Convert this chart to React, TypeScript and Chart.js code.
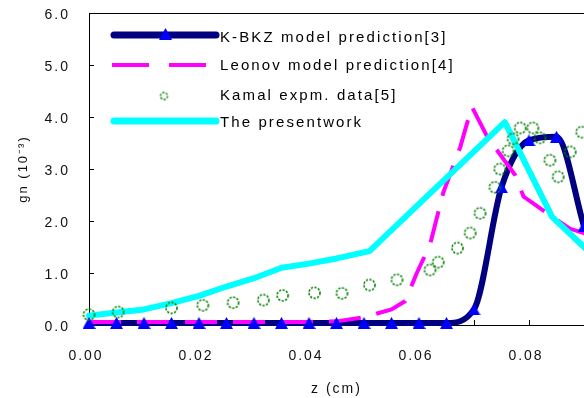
import React, { useEffect, useRef } from 'react';
import { Chart, registerables } from 'chart.js';

Chart.register(...registerables);

// ---- data ----
const seriesLabels = [
  'K-BKZ model prediction[3]',
  'Leonov model prediction[4]',
  'Kamal expm. data[5]',
  'The presentwork',
];

const kbkzZ = [0, 0.005, 0.01, 0.015, 0.02, 0.025, 0.03, 0.035, 0.04, 0.045, 0.05, 0.055, 0.06, 0.065, 0.07, 0.075, 0.08, 0.085, 0.09];
const kbkzV = [0.04, 0.04, 0.04, 0.04, 0.04, 0.04, 0.04, 0.04, 0.04, 0.04, 0.04, 0.04, 0.04, 0.04, 0.3, 2.65, 3.55, 3.62, 1.9];

const leonovZ = [0, 0.01, 0.02, 0.03, 0.04, 0.045, 0.05, 0.055, 0.0575, 0.0596, 0.062, 0.0644, 0.0675, 0.0696, 0.0724, 0.0775, 0.079, 0.0833, 0.0875, 0.092];
const leonovV = [0.06, 0.06, 0.06, 0.06, 0.06, 0.07, 0.15, 0.3, 0.46, 1.0, 1.54, 2.54, 3.42, 4.2, 3.62, 2.88, 2.47, 2.15, 1.85, 1.7];

const kamalZ = [0, 0.0053, 0.015, 0.0207, 0.0262, 0.0317, 0.0352, 0.041, 0.046, 0.051, 0.056, 0.062, 0.0635, 0.067, 0.0693, 0.0711, 0.0738, 0.0747, 0.0762, 0.0771, 0.0784, 0.0807, 0.082, 0.0838, 0.0853, 0.0875, 0.0896];
const kamalV = [0.2, 0.25, 0.33, 0.38, 0.43, 0.48, 0.57, 0.62, 0.61, 0.77, 0.87, 1.06, 1.21, 1.48, 1.77, 2.15, 2.65, 3.0, 3.35, 3.58, 3.79, 3.79, 3.6, 3.17, 2.85, 3.33, 3.71];

const presentZ = [0, 0.005, 0.01, 0.015, 0.02, 0.025, 0.03, 0.035, 0.04, 0.045, 0.051, 0.0756, 0.0842, 0.092];
const presentV = [0.18, 0.24, 0.3, 0.42, 0.56, 0.74, 0.9, 1.1, 1.18, 1.28, 1.42, 3.9, 2.08, 1.3];

const xMin = 0;
const xMax = 0.09;
const xLabelStep = 0.02;
const xMinorStep = 0.01;
const yMin = 0;
const yMax = 6;
const yStep = 1;

const xTitle = 'z (cm)';
const yTitle = 'gn (10\u207B\u00B3)';

// ---- helpers ----
const pts = (xs: number[], ys: number[]) => xs.map((x, i) => ({ x, y: ys[i] }));

const NAVY = '#000080';
const BLUE = '#0000FF';
const MAGENTA = '#FF00FF';
const GREEN = '#008000';
const CYAN = '#00FFFF';
const FONT = '"Liberation Sans", Arial, sans-serif';

function makeCircle(r: number, lw: number) {
  const size = Math.ceil(2 * r + lw + 2);
  const c = document.createElement('canvas');
  c.width = size;
  c.height = size;
  const g = c.getContext('2d')!;
  g.strokeStyle = GREEN;
  g.lineWidth = lw;
  g.setLineDash([2.2, 1.4]);
  g.beginPath();
  g.arc(size / 2, size / 2, r, 0, Math.PI * 2);
  g.stroke();
  return c;
}

function makeTriangle(w: number, h: number) {
  const c = document.createElement('canvas');
  c.width = w;
  c.height = h;
  const g = c.getContext('2d')!;
  g.fillStyle = BLUE;
  g.beginPath();
  g.moveTo(w / 2, 0);
  g.lineTo(w, h);
  g.lineTo(0, h);
  g.closePath();
  g.fill();
  return c;
}

export default function App() {
  const ref = useRef<HTMLCanvasElement | null>(null);

  useEffect(() => {
    const canvas = ref.current;
    if (!canvas) return;
    const circle = makeCircle(5.5, 1.6);
    const smallCircle = makeCircle(3.5, 1.4);
    const triangle = makeTriangle(13, 12);

    const setSpacing = (chart: any) => {
      try {
        chart.ctx.letterSpacing = '2px';
      } catch (e) {}
    };

    const framePlugin = {
      id: 'frameAndLegend',
      beforeUpdate: (chart: any) => setSpacing(chart),
      beforeDraw: (chart: any) => setSpacing(chart),
      beforeDatasetsDraw: (chart: any) => {
        const { ctx, chartArea: a, scales } = chart;
        ctx.save();
        ctx.strokeStyle = '#000';
        ctx.lineWidth = 1;
        ctx.beginPath();
        ctx.moveTo(a.left + 0.5, a.top + 0.5);
        ctx.lineTo(a.right + 2, a.top + 0.5);
        ctx.moveTo(a.left + 0.5, a.top);
        ctx.lineTo(a.left + 0.5, a.bottom + 0.5);
        ctx.moveTo(a.left, a.bottom + 0.5);
        ctx.lineTo(a.right + 2, a.bottom + 0.5);
        // inside tick marks
        for (let v = yMin; v <= yMax + 1e-9; v += yStep) {
          const y = Math.round(scales.y.getPixelForValue(v)) + 0.5;
          ctx.moveTo(a.left, y);
          ctx.lineTo(a.left + 5, y);
        }
        for (let k = 1; k * xMinorStep <= xMax + 1e-9; k++) {
          const x = Math.round(scales.x.getPixelForValue(k * xMinorStep)) + 0.5;
          ctx.moveTo(x, a.bottom);
          ctx.lineTo(x, a.bottom - 5);
        }
        ctx.stroke();
        ctx.restore();
      },
      afterDraw: (chart: any) => {
        const { ctx } = chart;
        ctx.save();
        const x0 = 114;
        const x1 = 216;
        const rows = [35, 65, 96, 121];
        // K-BKZ
        ctx.lineCap = 'round';
        ctx.strokeStyle = NAVY;
        ctx.lineWidth = 7;
        ctx.beginPath();
        ctx.moveTo(x0, rows[0]);
        ctx.lineTo(x1, rows[0]);
        ctx.stroke();
        ctx.drawImage(triangle, 165 - 6, rows[0] - 7);
        // Leonov
        ctx.lineCap = 'butt';
        ctx.strokeStyle = MAGENTA;
        ctx.lineWidth = 4;
        ctx.setLineDash([37, 20]);
        ctx.beginPath();
        ctx.moveTo(112, rows[1]);
        ctx.lineTo(206, rows[1]);
        ctx.stroke();
        ctx.setLineDash([]);
        // Kamal
        ctx.drawImage(smallCircle, 164 - smallCircle.width / 2, rows[2] - smallCircle.height / 2);
        // present
        ctx.lineCap = 'round';
        ctx.strokeStyle = CYAN;
        ctx.lineWidth = 7;
        ctx.beginPath();
        ctx.moveTo(x0, rows[3]);
        ctx.lineTo(x1, rows[3]);
        ctx.stroke();
        // texts
        ctx.fillStyle = '#000';
        ctx.font = `15px ${FONT}`;
        try {
          ctx.letterSpacing = '2.1px';
        } catch (e) {}
        ctx.textBaseline = 'middle';
        ctx.textAlign = 'left';
        const ty = [38, 66, 96, 123];
        seriesLabels.forEach((t, i) => ctx.fillText(t, 220, ty[i]));
        ctx.restore();
      },
    };

    const chart = new Chart(canvas, {
      type: 'line',
      data: {
        datasets: [
          {
            label: seriesLabels[2],
            data: pts(kamalZ, kamalV),
            showLine: false,
            pointStyle: circle as any,
            pointRadius: 5.5,
            borderColor: GREEN,
            backgroundColor: 'transparent',
            order: 1,
            clip: 10,
          },
          {
            label: seriesLabels[0] + ' markers',
            data: pts(kbkzZ, kbkzV),
            showLine: false,
            pointStyle: triangle as any,
            pointRadius: 6,
            pointBackgroundColor: BLUE,
            pointBorderColor: BLUE,
            order: 2,
            clip: 10,
          },
          {
            label: seriesLabels[3],
            data: pts(presentZ, presentV),
            borderColor: CYAN,
            borderWidth: 6,
            pointRadius: 0,
            tension: 0,
            borderJoinStyle: 'round',
            borderCapStyle: 'round',
            order: 3,
            clip: 8,
          },
          {
            label: seriesLabels[1],
            data: pts(leonovZ, leonovV),
            borderColor: MAGENTA,
            borderWidth: 4,
            borderDash: [32, 16],
            pointRadius: 0,
            tension: 0,
            order: 4,
            clip: 8,
          },
          {
            label: seriesLabels[0],
            data: pts(kbkzZ, kbkzV),
            borderColor: NAVY,
            borderWidth: 6,
            pointRadius: 0,
            cubicInterpolationMode: 'monotone',
            borderJoinStyle: 'round',
            order: 5,
            clip: 8,
          },
        ] as any,
      },
      options: {
        responsive: false,
        animation: false,
        devicePixelRatio: 1,
        layout: { autoPadding: false, padding: { top: 13, right: 0, bottom: 0, left: 0 } },
        plugins: {
          legend: { display: false },
          tooltip: { enabled: false },
        },
        scales: {
          x: {
            type: 'linear',
            min: xMin,
            max: xMax,
            grid: { display: false, drawTicks: false },
            border: { display: false },
            ticks: {
              stepSize: xLabelStep,
              includeBounds: false,
              padding: 23,
              labelOffset: -3,
              color: '#111',
              font: { family: FONT, size: 14 },
              maxRotation: 0,
              callback: (v: any) => Number(v).toFixed(2),
            },
            title: {
              display: true,
              text: xTitle,
              color: '#111',
              font: { family: FONT, size: 14 },
              padding: { top: 0, bottom: 0 },
            },
            afterFit: (s: any) => {
              s.height = 73;
              s.paddingLeft = 0;
              s.paddingRight = 0;
            },
          },
          y: {
            type: 'linear',
            min: yMin,
            max: yMax,
            grid: { display: false, drawTicks: false },
            border: { display: false },
            ticks: {
              stepSize: yStep,
              padding: 19,
              labelOffset: 2,
              color: '#111',
              font: { family: FONT, size: 14 },
              callback: (v: any) => Number(v).toFixed(1),
            },
            title: {
              display: true,
              text: yTitle,
              color: '#111',
              font: { family: FONT, size: 13 },
              padding: { top: 16, bottom: 0 },
            },
            afterFit: (s: any) => {
              s.width = 89;
              s.paddingTop = 0;
              s.paddingBottom = 0;
            },
          },
        },
      } as any,
      plugins: [framePlugin],
    });

    return () => chart.destroy();
  }, []);

  return (
    <div
      style={{
        position: 'fixed',
        left: 0,
        top: 0,
        width: 584,
        height: 398,
        overflow: 'hidden',
        background: '#fff',
      }}
    >
      <canvas ref={ref} width={584} height={398} style={{ display: 'block', width: 584, height: 398 }} />
    </div>
  );
}
